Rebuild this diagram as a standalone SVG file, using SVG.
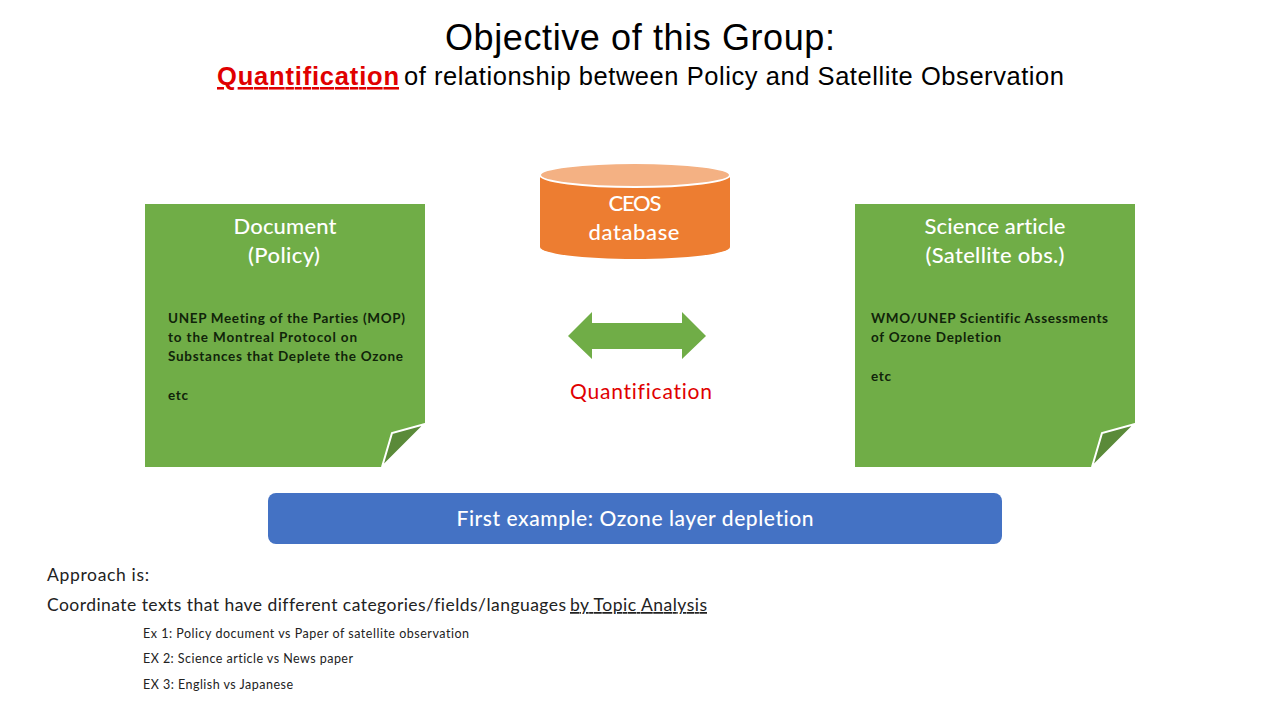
<svg xmlns="http://www.w3.org/2000/svg" width="1280" height="720" viewBox="0 0 1280 720">
<style>
.t{font-family:"Liberation Sans",Arial,sans-serif;fill:#000}
.c{font-family:Lato,"Open Sans",sans-serif;font-variant-ligatures:none}
.h{font-size:22px;font-weight:500;fill:#fff;text-anchor:middle}
.b{font-size:13.5px;font-weight:700;fill:#10240a}
.a{font-size:17.5px;fill:#222}
.s{font-size:12.5px;fill:#222}
.note{fill:#70ad47}
.fold{fill:#5a8a39;stroke:#fff;stroke-width:2}
</style>
<rect width="1280" height="720" fill="#fff"/>
<g id="title">
<text class="t" x="640" y="50" font-size="36" text-anchor="middle" textLength="390" lengthAdjust="spacing">Objective of this Group:</text>
<text class="t" x="217" y="85" font-size="25.5" font-weight="700" fill="#e00000" style="fill:#e00000" text-decoration="underline" textLength="182">Quantification</text>
<text class="t" x="404" y="85" font-size="25.5" textLength="660">of relationship between Policy and Satellite Observation</text>
</g>
<g id="document">
<path class="note" d="M145 204H425V424L382 467H145Z"/>
<path class="fold" d="M382 467L392 433L425 424Z"/>
<text class="c h" x="285" y="234" textLength="103">Document</text>
<text class="c h" x="284" y="263" textLength="72">(Policy)</text>
<text class="c b" x="168" y="323" textLength="237">UNEP Meeting of the Parties (MOP)</text>
<text class="c b" x="168" y="342" textLength="189">to the Montreal Protocol on</text>
<text class="c b" x="168" y="361" textLength="235">Substances that Deplete the Ozone</text>
<text class="c b" x="168" y="400" textLength="20">etc</text>
</g>
<g id="science">
<path class="note" d="M855 204H1135V424L1092 467H855Z"/>
<path class="fold" d="M1092 467L1102 433L1135 424Z"/>
<text class="c h" x="995" y="234" textLength="141">Science article</text>
<text class="c h" x="995" y="263" textLength="139">(Satellite obs.)</text>
<text class="c b" x="871" y="323" textLength="237">WMO/UNEP Scientific Assessments</text>
<text class="c b" x="871" y="342" textLength="130">of Ozone Depletion</text>
<text class="c b" x="871" y="381" textLength="20">etc</text>
</g>
<g id="database">
<path d="M540 175V247A95 12 0 0 0 730 247V175Z" fill="#ed7d31"/>
<ellipse cx="635" cy="175" rx="95" ry="12" fill="#f4b183" stroke="#fff" stroke-width="2"/>
<text class="c h" x="635" y="211" textLength="53">CEOS</text>
<text class="c h" x="634" y="240" textLength="91">database</text>
</g>
<g id="connectors">
<path class="note" d="M568 336L592 312V323H682V312L706 336L682 359V349H592V359Z"/>
</g>
<g id="quantification-label">
<text class="c" x="641" y="399" font-size="21" fill="#e00000" text-anchor="middle" textLength="142">Quantification</text>
</g>
<g id="example">
<rect x="268" y="493" width="734" height="51" rx="8" fill="#4472c4"/>
<text class="c" x="635" y="526" font-size="21" font-weight="500" fill="#fff" text-anchor="middle" textLength="357">First example: Ozone layer depletion</text>
</g>
<g id="approach">
<text class="c a" x="47" y="581" textLength="102">Approach is:</text>
<text class="c a" x="47" y="611" textLength="519">Coordinate texts that have different categories/fields/languages</text>
<text class="c a" x="570" y="611" textLength="137" text-decoration="underline">by Topic Analysis</text>
<text class="c s" x="143" y="638" textLength="326">Ex 1: Policy document vs Paper of satellite observation</text>
<text class="c s" x="143" y="663" textLength="210">EX 2: Science article vs News paper</text>
<text class="c s" x="143" y="689" textLength="150">EX 3: English vs Japanese</text>
</g>
</svg>
